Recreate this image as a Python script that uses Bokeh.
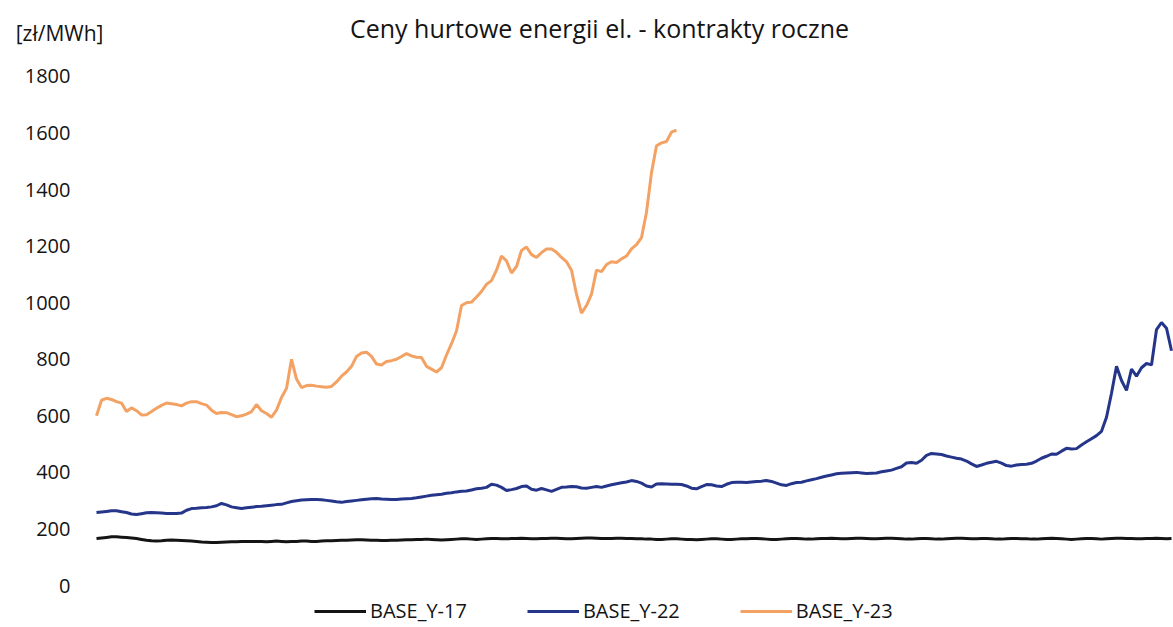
from bokeh.plotting import figure
from bokeh.models import Range1d, FixedTicker, Label, Legend, LegendItem
from bokeh.layouts import column
from bokeh.embed import file_html
from bokeh.resources import INLINE

title_text = "Ceny hurtowe energii el. - kontrakty roczne"
unit_text = "[zł/MWh]"
series_names = ["BASE_Y-17", "BASE_Y-22", "BASE_Y-23"]
y_ticks = [0, 200, 400, 600, 800, 1000, 1200, 1400, 1600, 1800]

base_y17 = [
    166, 168, 170, 172, 172, 171, 170, 168,
    166, 163, 160, 158, 157,
    158, 160, 161, 160, 159, 158, 157, 156,
    154, 153, 152, 152, 153, 154, 155, 155, 156, 156, 156, 156,
    156, 155, 156, 157, 156, 155, 156, 156, 157, 157, 156, 156, 157, 158,
    158, 159, 160, 160, 161, 162, 162, 161, 160, 160, 159, 159, 160, 160,
    161, 162, 162, 163, 163, 164, 163, 162, 161, 162, 163, 164, 165, 165,
    164, 163, 164, 165, 166, 166, 165, 165, 166, 166, 167, 166, 165, 165,
    166, 166, 167, 167, 166, 165, 165, 166, 167, 168, 168, 167, 166, 166,
    166, 167, 167, 166,
    166, 165, 165, 164, 164, 163, 163, 164, 165, 165,
    164, 163, 163, 162, 163, 164, 165, 165, 164, 163,
    163, 164, 165, 165, 166, 166, 165, 164, 163, 163,
    164, 165, 166, 166, 165, 164, 164, 165, 166, 166,
    167, 166, 165, 165, 166, 167, 167, 166, 165, 165,
    166, 167, 167, 166, 165, 164, 164, 165, 166, 166,
    165, 164, 164, 165, 166, 167, 167, 166, 165, 165,
    166, 166, 165, 164, 164, 165, 166, 166, 165, 165,
    164, 164, 165, 166, 167, 166, 165, 164, 163, 164,
    165, 166, 166, 165, 164, 165, 166, 167, 167, 166,
    166, 165, 165, 166, 166, 167, 166, 165, 166,
]

base_y22 = [
    258, 260, 262, 264, 264, 261, 258, 253, 251, 254,
    257, 258, 257, 256, 255, 255, 255, 256, 266, 272,
    273, 275, 276, 278, 282, 290, 285, 278, 275, 272,
    275, 277, 279, 280, 282, 284, 286, 287, 292, 297,
    300, 302, 303, 304, 304, 303, 301, 299, 296, 294,
    297, 299, 301, 303, 305, 307, 308, 306, 305, 304,
    304, 306, 307, 308, 310, 313, 316, 319, 321, 323,
    326, 328, 331, 333, 334, 338, 342, 344, 347, 358,
    355, 347, 336, 339, 343, 350, 352, 340, 337, 343,
    338, 333, 340, 347, 348, 350, 349, 345, 344, 347,
    350, 347, 352, 356, 360, 363, 366, 371, 368, 362,
    352, 348, 359, 360, 359, 358, 358, 357, 352, 344,
    342, 350, 357, 356, 352, 350, 358, 364, 365, 365,
    364, 366, 368, 369, 371, 368, 362, 356, 354, 360,
    364, 365, 370, 374, 378, 383, 387, 391, 395, 397,
    398, 399, 400, 398, 396, 397, 398, 402, 405, 408,
    414, 420, 433, 435, 432, 443, 460, 467, 465, 463,
    458, 454, 450, 447, 440, 430, 421, 426, 432, 436,
    439, 433, 424, 422, 426, 428, 429, 432, 440, 450,
    457, 465, 464, 475, 485, 483, 484, 497, 508, 519,
    530, 545, 595, 680, 775, 725, 690, 765, 740, 770,
    785, 780, 905, 930, 910, 830,
]

base_y23 = [
    600, 655, 662, 658, 650, 645, 615, 628, 618, 603,
    604, 615, 627, 637, 645, 643, 640, 635, 645, 650,
    650, 643, 638, 620, 608, 612, 611, 604, 597, 600,
    606, 615, 640, 618, 608, 595, 620, 665, 697, 800,
    730, 700, 707, 708, 705, 703, 701, 704, 720, 740,
    755, 775, 810, 822, 825, 810, 783, 780, 792, 795,
    800, 810, 820, 812, 807, 806, 775, 765, 755, 770,
    815, 855, 900, 990, 1000, 1002, 1020, 1040, 1065, 1078,
    1115, 1165, 1148, 1105, 1128, 1185, 1197, 1170, 1160, 1177,
    1190, 1190, 1178, 1160, 1145, 1115, 1030, 963, 990, 1030,
    1115, 1110, 1135, 1145, 1142, 1155, 1165, 1190, 1205, 1230,
    1320, 1460, 1555, 1565, 1570, 1603, 1610,
]

days = list(range(len(base_y22)))

FONT = "Open Sans"
TXT = "#141414"
W = 1173
TOP_H = 52
LEFT = 82

# ---- header strip: title, and the unit shown as the strip's y-axis label ----
head = figure(width=W, height=TOP_H, output_backend="svg", toolbar_location=None,
              x_range=Range1d(0, W - LEFT), y_range=Range1d(0, TOP_H),
              min_border_left=LEFT, min_border_right=0, min_border_top=0, min_border_bottom=0)
head.title.visible = False
head.xaxis.visible = False
head.xgrid.visible = False
head.ygrid.visible = False
head.outline_line_color = None
hy = head.yaxis[0]
hy.ticker = FixedTicker(ticks=[20])
hy.major_label_overrides = {20: unit_text}
hy.axis_line_color = None
hy.major_tick_line_color = None
hy.minor_tick_line_color = None
hy.major_tick_in = 0
hy.major_tick_out = 0
hy.major_label_standoff = -21
hy.major_label_text_font = FONT
hy.major_label_text_font_size = "21px"
hy.major_label_text_color = TXT
head.add_layout(Label(x=517, y=25, text=title_text, text_font=FONT, text_font_size="25px",
                      text_align="center", text_baseline="middle", text_color=TXT))

# ---- main chart ----
p = figure(width=W, height=627 - TOP_H, output_backend="svg", toolbar_location=None,
           x_range=Range1d(-2.8, 215.4), y_range=Range1d(-148.5, 1884.7),
           min_border_left=LEFT, min_border_right=0, min_border_top=0, min_border_bottom=0)
p.title.visible = False
p.outline_line_color = None
p.xgrid.visible = False
p.ygrid.visible = False
p.xaxis.visible = False

ya = p.yaxis[0]
ya.ticker = FixedTicker(ticks=y_ticks)
ya.axis_line_color = None
ya.major_tick_line_color = None
ya.minor_tick_line_color = None
ya.major_tick_in = 0
ya.major_tick_out = 0
ya.major_label_standoff = 12
ya.major_label_text_font = FONT
ya.major_label_text_font_size = "20px"
ya.major_label_text_color = TXT

r17 = p.line(days[:len(base_y17)], base_y17, line_color="#141414", line_width=3)
r22 = p.line(days[:len(base_y22)], base_y22, line_color="#24358a", line_width=3)
r23 = p.line(days[:len(base_y23)], base_y23, line_color="#f3a264", line_width=3)

legend = Legend(items=[LegendItem(label=series_names[0], renderers=[r17]),
                       LegendItem(label=series_names[1], renderers=[r22]),
                       LegendItem(label=series_names[2], renderers=[r23])],
                orientation="horizontal", location=(232, 3),
                glyph_width=52, glyph_height=20, label_standoff=4, spacing=60,
                label_text_font=FONT, label_text_font_size="20px", label_text_color=TXT,
                border_line_color=None, background_fill_alpha=0, padding=0, margin=0)
p.add_layout(legend, "center")

layout = column(head, p, spacing=0)
open("out.html", "w").write(file_html(layout, INLINE))
